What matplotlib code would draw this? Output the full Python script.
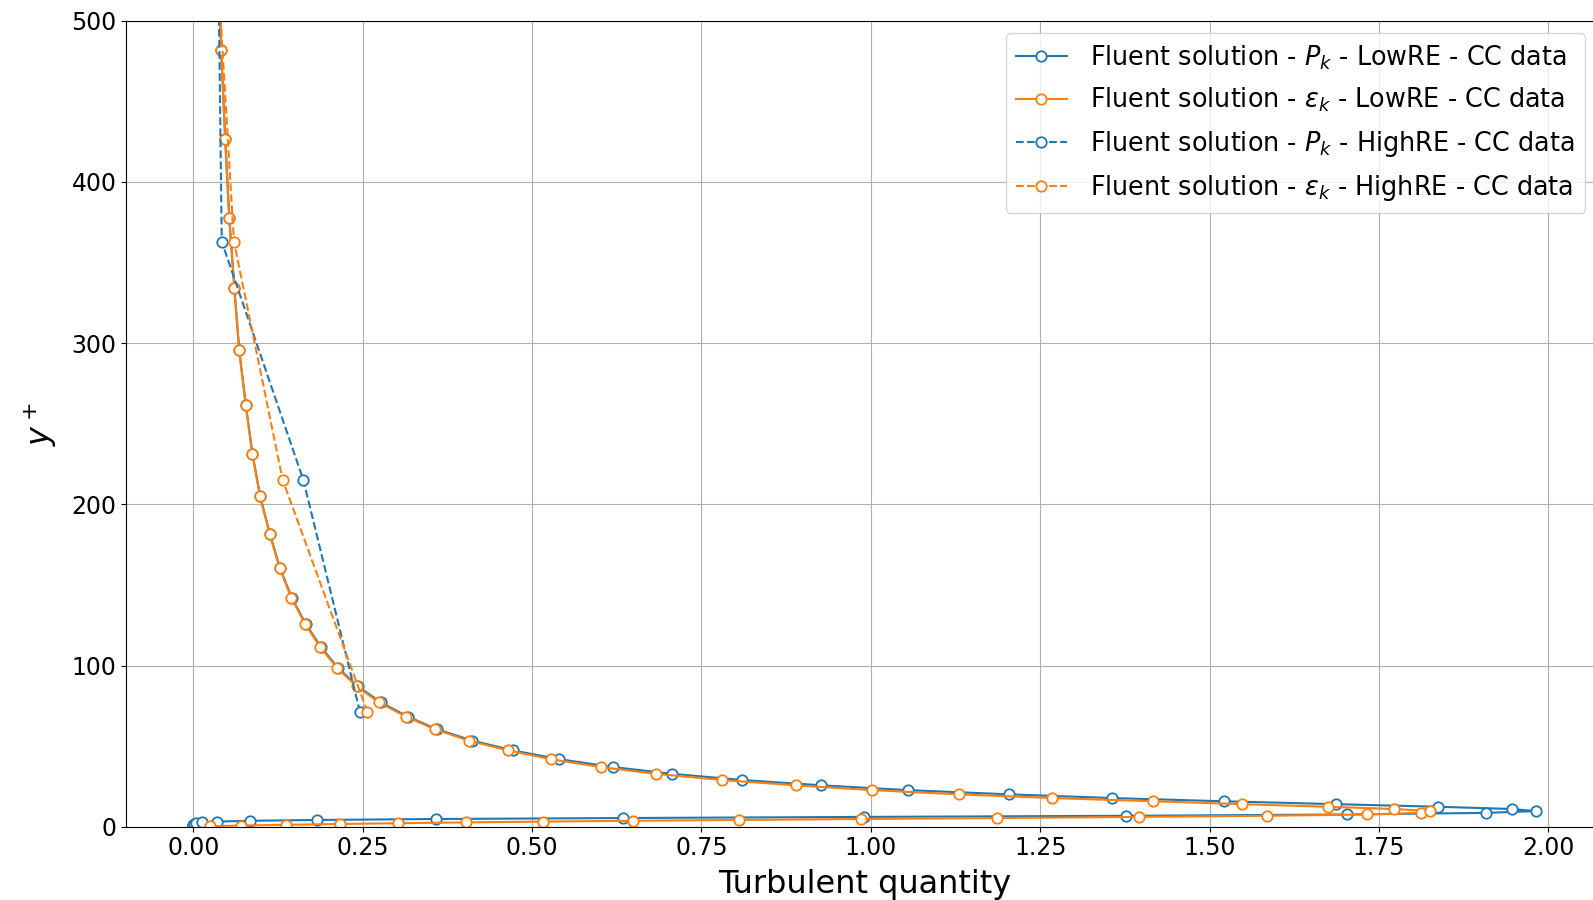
import matplotlib
matplotlib.use("Agg")
import matplotlib.pyplot as plt

# y+ of the cell centres (LowRE mesh), shared by both LowRE curves
yplus_low = [0.3, 0.75, 1.2, 1.7, 2.2, 2.7, 3.2, 3.7, 4.2, 4.8, 5.4, 6.1, 6.8, 7.6, 8.6, 9.7,
             11.0, 12.4, 14.0, 15.8, 17.8, 20.1, 22.7, 25.7, 29.0, 32.8,
             37.0, 41.9, 47.3, 53.4, 60.4, 68.2, 77.1, 87.1, 98.4, 111.2,
             125.7, 142.0, 160.4, 181.3, 204.9, 231.5, 261.6, 295.6, 334.0, 377.5,
             426.5, 482.0, 544.6]

# P_k - LowRE
pk_low = [0.0, 0.0, 0.0, 0.001, 0.004, 0.013, 0.035, 0.083, 0.182, 0.358, 0.634, 0.990,
          1.377, 1.702, 1.908, 1.981,
          1.946, 1.837, 1.687, 1.521, 1.356, 1.204, 1.055, 0.927, 0.810, 0.707,
          0.620, 0.540, 0.4723, 0.412, 0.360, 0.317, 0.277, 0.243, 0.214, 0.189,
          0.166, 0.1455, 0.128, 0.1133, 0.0988, 0.0873, 0.0776, 0.0679, 0.0607, 0.0532,
          0.0472, 0.0412, 0.0372]

# eps_k - LowRE
eps_low = [0.025, 0.071, 0.137, 0.216, 0.302, 0.403, 0.516, 0.649, 0.805, 0.986, 1.186, 1.396,
           1.585, 1.732, 1.812, 1.825,
           1.772, 1.675, 1.547, 1.417, 1.267, 1.130, 1.002, 0.889, 0.780, 0.683,
           0.602, 0.528, 0.465, 0.4065, 0.357, 0.3145, 0.274, 0.241, 0.2125, 0.1875,
           0.165, 0.1447, 0.1275, 0.1128, 0.0984, 0.087, 0.0773, 0.0676, 0.0605, 0.053,
           0.047, 0.041, 0.037]

# HighRE mesh (wall functions, coarse cells)
yplus_high = [71.2, 215.0, 363.0, 511.0]
pk_high = [0.246, 0.1625, 0.042, 0.0377]
eps_high = [0.257, 0.132, 0.060, 0.039]

fig = plt.figure(figsize=(15.93, 9), dpi=100)
ax = fig.add_axes([0.0792, 0.0814, 0.9269, 0.8956])

mk = dict(marker='o', markersize=7.5, markerfacecolor='white', markeredgewidth=1.3)
ax.plot(pk_low, yplus_low, '-', color='C0', label=r'Fluent solution - $P_k$ - LowRE - CC data', **mk)
ax.plot(eps_low, yplus_low, '-', color='C1', label=r'Fluent solution - $\varepsilon_k$ - LowRE - CC data', **mk)
ax.plot(pk_high, yplus_high, '--', color='C0', label=r'Fluent solution - $P_k$ - HighRE - CC data', **mk)
ax.plot(eps_high, yplus_high, '--', color='C1', label=r'Fluent solution - $\varepsilon_k$ - HighRE - CC data', **mk)

ax.set_ylim(0, 500)
ax.grid(True)
ax.tick_params(labelsize=17)
ax.set_xlabel('Turbulent quantity', fontsize=23, labelpad=6)
ax.set_ylabel(r'$y^+$', fontsize=23, labelpad=9)
ax.legend(loc='upper right', bbox_to_anchor=(0.988, 0.985), borderaxespad=0,
          fontsize=18.4, labelspacing=0.56, handletextpad=0.9)

fig.savefig('out.png', dpi=100)
